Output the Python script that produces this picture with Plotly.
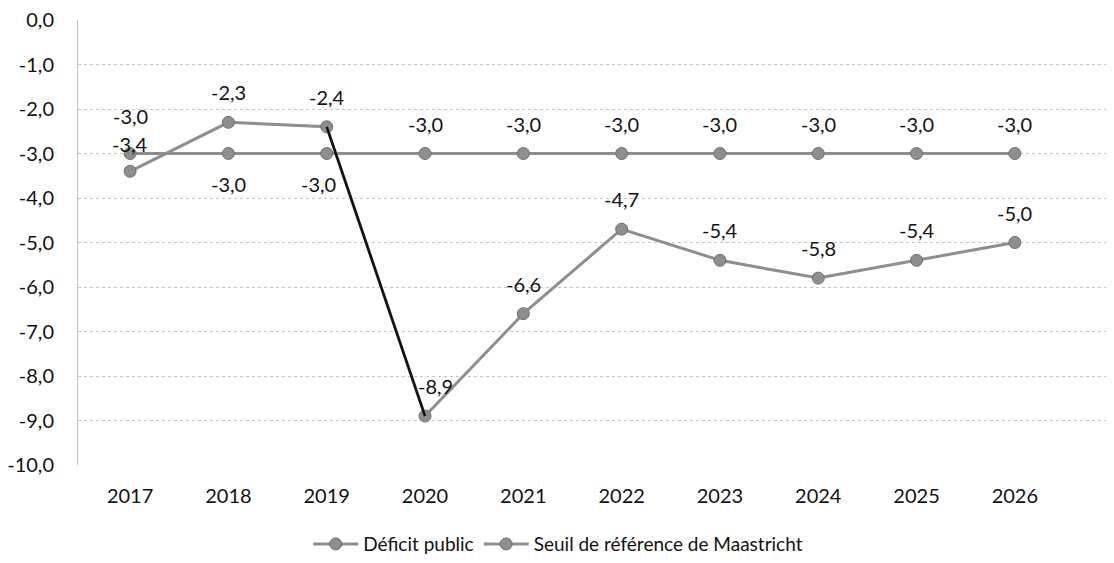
import plotly.graph_objects as go

annees = ['2017', '2018', '2019', '2020', '2021', '2022', '2023', '2024', '2025', '2026']
deficit_public = [-3.4, -2.3, -2.4, -8.9, -6.6, -4.7, -5.4, -5.8, -5.4, -5.0]
seuil_maastricht = [-3.0, -3.0, -3.0, -3.0, -3.0, -3.0, -3.0, -3.0, -3.0, -3.0]
# position of labels: 1 = above point, -1 = below point
pos_deficit = [1, 1, 1, 1, 1, 1, 1, 1, 1, 1]
pos_seuil = [1, -1, -1, 1, 1, 1, 1, 1, 1, 1]
y_ticks = [0, -1, -2, -3, -4, -5, -6, -7, -8, -9, -10]

gris = '#8e8e8e'
police = 'Lato'


def fmt(v):
    return f'{v:.1f}'.replace('.', ',')


fig = go.Figure()

fig.add_trace(
    go.Scatter(
        x=annees, y=seuil_maastricht, name='Seuil de référence de Maastricht', mode='lines+markers',
        line=dict(color=gris, width=3),
        marker=dict(size=12, color=gris, line=dict(color='#6e6e6e', width=1)),
    )
)
fig.add_trace(
    go.Scatter(
        x=annees, y=deficit_public, name='Déficit public', mode='lines+markers',
        line=dict(color=gris, width=3),
        marker=dict(size=12, color=gris, line=dict(color='#6e6e6e', width=1)),
    )
)
# dark segment 2019 -> 2020
fig.add_trace(
    go.Scatter(
        x=annees[2:4], y=deficit_public[2:4], mode='lines', showlegend=False, hoverinfo='skip',
        line=dict(color='#111111', width=2.5),
    )
)

annotations = []
for i, (v, p) in enumerate(zip(seuil_maastricht, pos_seuil)):
    dy = 38 if i == 0 else 30
    annotations.append(dict(
        x=i, y=v, xref='x', yref='y', text=fmt(v), showarrow=False, yshift=dy * p,
        xshift=-8 if annees[i] == '2019' and p < 0 else 0,
        font=dict(family=police, size=20, color='#111111'),
    ))
for i, (v, p) in enumerate(zip(deficit_public, pos_deficit)):
    dy = 27 if i == 0 else 30
    annotations.append(dict(
        x=i, y=v, xref='x', yref='y', text=fmt(v), showarrow=False, yshift=dy * p,
        xshift=10 if annees[i] == '2020' else 0,
        font=dict(family=police, size=20, color='#111111'),
    ))

fig.update_layout(
    width=1114, height=563,
    margin=dict(l=70, r=0, t=12, b=106),
    paper_bgcolor='white', plot_bgcolor='white',
    font=dict(family=police, size=20, color='#111111'),
    annotations=annotations,
    showlegend=True,
    legend=dict(
        orientation='h', x=0.46, xanchor='center', y=-0.135, yanchor='top',
        traceorder='reversed', font=dict(family=police, size=19), itemwidth=45,
    ),
)
fig.update_xaxes(
    type='category', range=[-0.53, 10.09], showgrid=False, showline=False, zeroline=False,
    ticks='', ticklabelstandoff=17, tickfont=dict(size=20), automargin=False,
)
fig.update_yaxes(
    range=[-10, 0], tickvals=y_ticks, ticktext=[fmt(v) for v in y_ticks],
    showgrid=True, gridcolor='#c4c4c4', griddash='dot', gridwidth=1,
    zeroline=False, showline=True, linecolor='#c4c4c4', linewidth=1,
    ticks='', ticklabelstandoff=19, tickfont=dict(size=20), automargin=False,
    ticklabeloverflow='allow',
)

fig.write_html('out.html')
